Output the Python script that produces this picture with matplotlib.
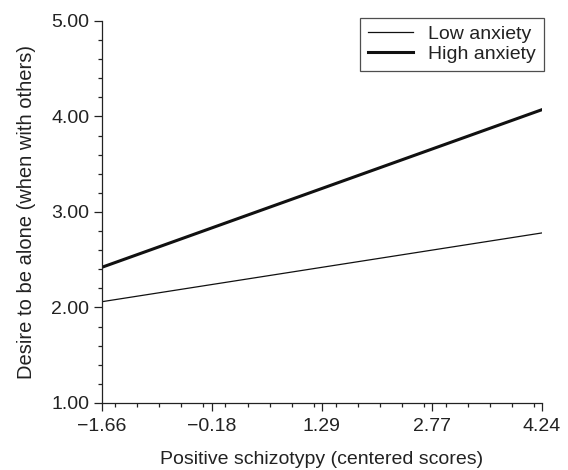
"""
simple slopes: desire to be alone by positive schizotypy
"""
import matplotlib
matplotlib.use("Agg")
import matplotlib.pyplot as plt
from matplotlib.ticker import MultipleLocator

x_ticks = [-1.66, -0.18, 1.29, 2.77, 4.24]
x_labels = ["\u22121.66", "\u22120.18", "1.29", "2.77", "4.24"]
y_ticks = [1, 2, 3, 4, 5]
y_labels = ["1.00", "2.00", "3.00", "4.00", "5.00"]
x_ends = [-1.66, 4.24]
low_anxiety = [2.06, 2.78]
high_anxiety = [2.42, 4.07]

plt.rcParams["font.family"] = ["Liberation Sans", "DejaVu Sans"]
ink = "#222222"

fig = plt.figure(figsize=(5.68, 4.70), dpi=100)
ax = fig.add_axes([0.179, 0.1426, 0.7746, 0.8128])

ax.plot(x_ends, low_anxiety, color="#111111", lw=0.9, label="Low anxiety")
ax.plot(x_ends, high_anxiety, color="#111111", lw=2.2, label="High anxiety")

ax.set_xlim(-1.66, 4.24)
ax.set_ylim(1.0, 5.0)
ax.set_xticks(x_ticks)
ax.set_xticklabels(x_labels)
ax.xaxis.set_minor_locator(MultipleLocator((x_ticks[1] - x_ticks[0]) / 5))
ax.set_yticks(y_ticks)
ax.set_yticklabels(y_labels)
ax.yaxis.set_minor_locator(MultipleLocator(0.2))

for side in ("top", "right"):
    ax.spines[side].set_visible(False)
for side in ("left", "bottom"):
    ax.spines[side].set_color(ink)
    ax.spines[side].set_linewidth(0.9)
ax.tick_params(which="major", length=6, width=0.9, color=ink,
               labelsize=14, labelcolor=ink, pad=3)
ax.tick_params(axis="x", which="major", pad=5)
ax.tick_params(which="minor", length=3, width=0.9, color=ink)

ax.set_xlabel("Positive schizotypy (centered scores)", fontsize=14,
              color=ink, labelpad=11)
ax.set_ylabel("Desire to be alone (when with others)", fontsize=14.5,
              color=ink, labelpad=11)

leg = ax.legend(loc="upper right", bbox_to_anchor=(1.005, 1.009),
                borderaxespad=0, fontsize=14, frameon=True, fancybox=False,
                handlelength=2.3, borderpad=0.4, labelspacing=0.12,
                handletextpad=0.8)
leg.get_frame().set_edgecolor(ink)
leg.get_frame().set_linewidth(0.9)
for t in leg.get_texts():
    t.set_color(ink)

fig.savefig("out.png", dpi=100)
